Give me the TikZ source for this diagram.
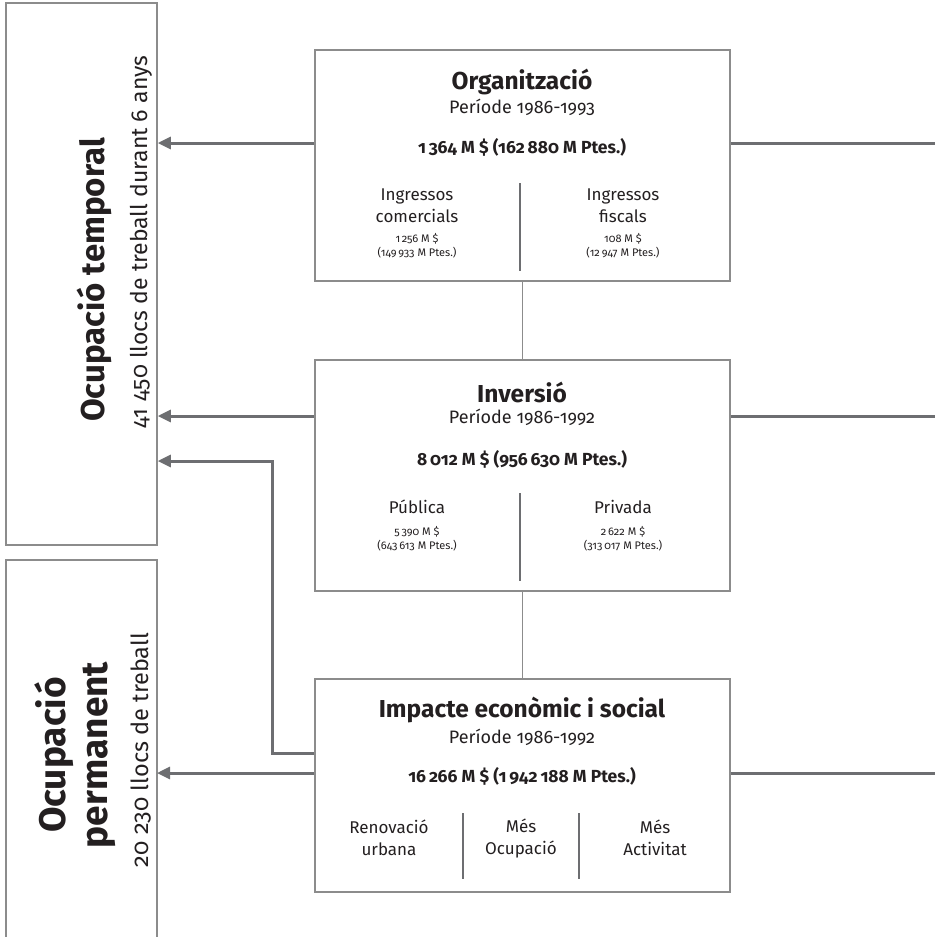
\documentclass[tikz,border=0pt]{standalone}
\usepackage{fontspec}
\setmainfont{Fira Sans}[Numbers=OldStyle]
\usetikzlibrary{arrows.meta}
\definecolor{boxgray}{HTML}{8C8C8C}
\definecolor{arrgray}{HTML}{6D6E71}
\definecolor{ink}{HTML}{231F20}
\begin{document}
\begin{tikzpicture}[x=1pt, y=-1pt,
	panel/.style={draw=boxgray, line width=1.5pt, inner sep=0pt, minimum width=415pt},
	titletxt/.style={font=\fontsize{24.5}{26}\selectfont\bfseries, text=ink},
	period/.style={font=\fontsize{18}{20}\selectfont, text=ink},
	amount/.style={font=\fontsize{17.5}{19}\selectfont\bfseries, text=ink},
	item/.style={font=\fontsize{17}{22}\selectfont, align=center, text=ink},
	figs/.style={font=\fontsize{11}{13.5}\selectfont, align=center, text=ink},
	arr/.style={draw=arrgray, line width=3pt, -{Triangle[length=13pt,width=12pt]}},
	plain/.style={draw=arrgray, line width=3pt},
	link/.style={draw=boxgray, line width=1pt},
	divider/.style={draw=arrgray, line width=2.5pt}]
	\useasboundingbox (0,0) rectangle (935,937);

	% left boxes
	\node[draw=boxgray, line width=1.5pt, minimum width=151pt, minimum height=542pt, inner sep=0pt] (temp) at (81.5,274) {};
	\draw[boxgray, line width=1.5pt] (6,940) -- (6,560) -- (157,560) -- (157,940);
	\coordinate (perm) at (157,773);
	\node[rotate=90, font=\fontsize{33}{36}\selectfont\bfseries, text=ink] (temp-t) at (94,280) {Ocupació temporal};
	\node[rotate=90, font=\fontsize{23}{26}\selectfont, text=ink] (temp-n) at (141,242) {41\hspace{0.3em}450 llocs de treball durant 6 anys};
	\node[rotate=90, font=\fontsize{37}{42}\selectfont\bfseries, text=ink, align=center] (perm-t) at (75,755) {Ocupació\\permanent};
	\node[rotate=90, font=\fontsize{23.5}{26}\selectfont, text=ink] (perm-n) at (141,750) {20\hspace{0.3em}230 llocs de treball};

	% boxes
	\node[panel, minimum height=231pt] (org) at (522.5,165.5) {};
	\node[panel, minimum height=231pt] (inv) at (522.5,475.5) {};
	\node[panel, minimum height=213pt] (imp) at (522.5,785.5) {};

	\node[titletxt] (org-t) at (522,82) {Organització};
	\node[period] (org-p) at (522,107) {Període 1986-1993};
	\node[amount] (org-a) at (522,147) {1\,364 M \$ (162\,880 M Ptes.)};
	\node[item] (org-l) at (417,206) {Ingressos\\comercials};
	\node[figs] (org-lf) at (417,246) {1\,256 M \$\\(149\,933 M Ptes.)};
	\node[item] (org-r) at (623,206) {Ingressos\\fiscals};
	\node[figs] (org-rf) at (623,246) {108 M \$\\(12\,947 M Ptes.)};
	\draw[divider] (520,183) -- (520,271);

	\node[titletxt] (inv-t) at (522,392) {Inversió};
	\node[period] (inv-p) at (522,417) {Període 1986-1992};
	\node[amount] (inv-a) at (522,459) {8\,012 M \$ (956\,630 M Ptes.)};
	\node[item] (inv-l) at (417,507) {Pública};
	\node[figs] (inv-lf) at (417,539) {5\,390 M \$\\(643\,613 M Ptes.)};
	\node[item] (inv-r) at (623,507) {Privada};
	\node[figs] (inv-rf) at (623,539) {2\,622 M \$\\(313\,017 M Ptes.)};
	\draw[divider] (520,493) -- (520,581);

	\node[titletxt] (imp-t) at (522,710) {Impacte econòmic i social};
	\node[period] (imp-p) at (522,737) {Període 1986-1992};
	\node[amount] (imp-a) at (522,776) {16\,266 M \$ (1\,942\,188 M Ptes.)};
	\node[item] (imp-1) at (389,838) {Renovació\\urbana};
	\node[item] (imp-2) at (521,838) {Més\\Ocupació};
	\node[item] (imp-3) at (655,838) {Més\\Activitat};
	\draw[divider] (463,813) -- (463,879);
	\draw[divider] (579,813) -- (579,879);

	% links between boxes
	\draw[link] (org.south) -- (inv.north);
	\draw[link] (inv.south) -- (imp.north);

	% arrows to the left
	\draw[arr] (org.west |- 0,143) -- (temp.east |- 0,143);
	\draw[arr] (inv.west |- 0,416) -- (temp.east |- 0,416);
	\draw[arr] (imp.west |- 0,753) -- (272,753) -- (272,461) -- (temp.east |- 0,461);
	\draw[arr] (imp.west |- 0,773) -- (perm);

	% lines to the right
	\draw[plain] (org.east |- 0,143) -- (935,143);
	\draw[plain] (inv.east |- 0,416) -- (935,416);
	\draw[plain] (imp.east |- 0,773) -- (935,773);
\end{tikzpicture}
\end{document}
